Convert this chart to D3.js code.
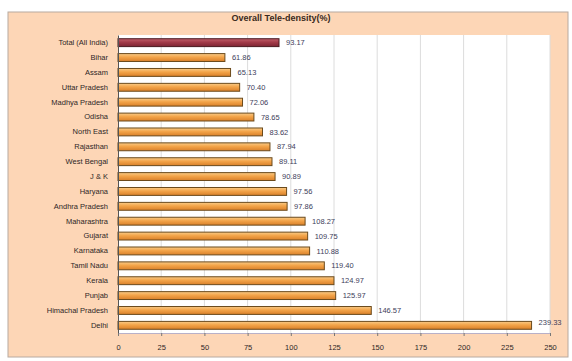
<!DOCTYPE html>
<html>
<head>
<meta charset="utf-8">
<script src="https://cdn.jsdelivr.net/npm/d3@7"></script>
<style>
  html, body { margin: 0; padding: 0; background: #ffffff; }
  svg { display: block; font-family: "Liberation Sans", Arial, sans-serif; }
</style>
</head>
<body>
<svg id="chart" width="572" height="361"></svg>
<script>
// Tele-density (%) by state / circle
const categories = [
  "Total (All India)", "Bihar", "Assam", "Uttar Pradesh", "Madhya Pradesh",
  "Odisha", "North East", "Rajasthan", "West Bengal", "J & K", "Haryana",
  "Andhra Pradesh", "Maharashtra", "Gujarat", "Karnataka", "Tamil Nadu",
  "Kerala", "Punjab", "Himachal Pradesh", "Delhi"
];
const values = [
  93.17, 61.86, 65.13, 70.40, 72.06,
  78.65, 83.62, 87.94, 89.11, 90.89, 97.56,
  97.86, 108.27, 109.75, 110.88, 119.40,
  124.97, 125.97, 146.57, 239.33
];
const tickValues = [0, 25, 50, 75, 100, 125, 150, 175, 200, 225, 250];
const chartTitle = "Overall Tele-density(%)";

const svg = d3.select("#chart");
const frame = { x: 8, y: 12, w: 560, h: 345 };
const plot = { left: 118, right: 550, top: 35, bottom: 333 };

const defs = svg.append("defs");
function barGradient(id, stops) {
  const g = defs.append("linearGradient").attr("id", id)
    .attr("x1", 0).attr("y1", 0).attr("x2", 0).attr("y2", 1);
  stops.forEach(([o, c]) => g.append("stop").attr("offset", o).attr("stop-color", c));
}
barGradient("barOrange", [[0, "#f9cb88"], [0.45, "#f3a449"], [1, "#d9802a"]]);
barGradient("barTotal", [[0, "#c0606a"], [0.45, "#a23a48"], [1, "#7c2432"]]);

// outer chart frame
svg.append("rect")
  .attr("x", frame.x).attr("y", frame.y)
  .attr("width", frame.w).attr("height", frame.h)
  .attr("fill", "#fdd6b6").attr("stroke", "#b8aaa0").attr("stroke-width", 1);

// title
svg.append("text")
  .attr("x", 281).attr("y", 21)
  .attr("text-anchor", "middle")
  .attr("font-size", 9).attr("font-weight", "bold")
  .attr("fill", "#3a2a20")
  .text(chartTitle);

// plot area
svg.append("rect")
  .attr("x", plot.left).attr("y", plot.top)
  .attr("width", plot.right - plot.left).attr("height", plot.bottom - plot.top)
  .attr("fill", "#ffffff");

const x = d3.scaleLinear().domain([0, 250]).range([plot.left, plot.right]);
const y = d3.scaleBand().domain(categories).range([plot.top, plot.bottom]).paddingInner(0.47).paddingOuter(0.25);

// vertical gridlines
svg.append("g").selectAll("line")
  .data(tickValues.slice(1))
  .join("line")
  .attr("x1", d => x(d)).attr("x2", d => x(d))
  .attr("y1", plot.top).attr("y2", plot.bottom)
  .attr("stroke", "#dcdcdc").attr("stroke-width", 1);

// bars
svg.append("g").selectAll("rect")
  .data(categories)
  .join("rect")
  .attr("x", x(0))
  .attr("y", d => y(d))
  .attr("width", (d, i) => x(values[i]) - x(0))
  .attr("height", y.bandwidth())
  .attr("fill", (d, i) => i === 0 ? "url(#barTotal)" : "url(#barOrange)")
  .attr("stroke", (d, i) => i === 0 ? "#4a1a20" : "#6b4a1c")
  .attr("stroke-width", 1);

// value labels
svg.append("g").selectAll("text")
  .data(categories)
  .join("text")
  .attr("x", (d, i) => x(values[i]) + 7)
  .attr("y", (d, i) => y(d) + y.bandwidth() / 2 + (i === categories.length - 1 ? -3 : 0))
  .attr("dy", "0.35em")
  .attr("font-size", 7.5)
  .attr("fill", "#40405a")
  .text((d, i) => values[i].toFixed(2));

// category axis
const yAxis = svg.append("g")
  .attr("transform", `translate(${plot.left},0)`)
  .call(d3.axisLeft(y).tickSize(0).tickPadding(10));
yAxis.select(".domain").attr("stroke", "#555");
yAxis.selectAll("text").attr("font-size", 7.5).attr("fill", "#2e2626")
  .attr("font-family", "Liberation Sans, Arial, sans-serif");

// value axis
const xAxis = svg.append("g")
  .attr("transform", `translate(0,${plot.bottom})`)
  .call(d3.axisBottom(x).tickValues(tickValues).tickSize(3).tickPadding(9));
xAxis.select(".domain").attr("stroke", "#b8b0c8");
xAxis.selectAll(".tick line").attr("stroke", "#777");
xAxis.selectAll("text").attr("font-size", 7.5).attr("fill", "#2e2626")
  .attr("font-family", "Liberation Sans, Arial, sans-serif");
</script>
</body>
</html>
